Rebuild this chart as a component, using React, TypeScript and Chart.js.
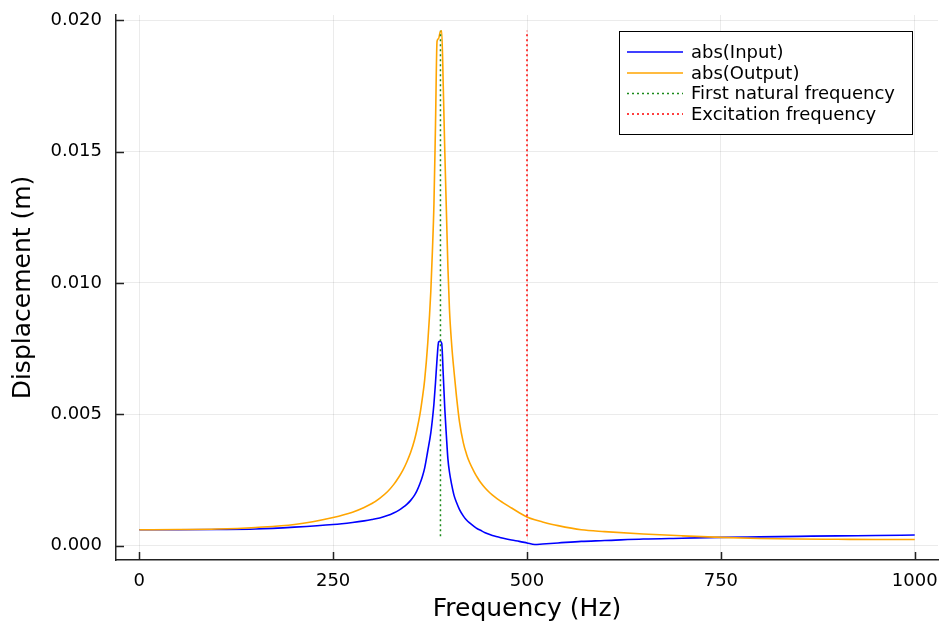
import React, { useEffect, useRef } from "react";
import { Chart, registerables } from "chart.js";

Chart.register(...registerables);

const frequencies = [
  0, 50, 100, 150, 200, 250, 275, 290, 300, 310, 320, 328, 335, 340, 345, 350, 355, 358, 362, 365,
  368, 372, 376, 378, 380, 382, 384, 386, 388, 390, 392, 394, 396, 398, 400, 403, 406, 409, 413,
  418, 422, 426, 432, 436, 440, 446, 452, 458, 465, 480, 490, 500, 510, 520, 540, 570, 600, 650,
  700, 750, 800, 850, 900, 950, 1000,
];

const inputAbs = [
  0.0006, 0.0006, 0.00061, 0.00063, 0.0007, 0.0008, 0.00088, 0.00094, 0.00099, 0.00105, 0.00114,
  0.00124, 0.00135, 0.00145, 0.00157, 0.00172, 0.00192, 0.00208, 0.00236, 0.00262, 0.00295, 0.0036,
  0.0043, 0.0048, 0.0054, 0.0062, 0.0071, 0.00775, 0.00778, 0.0077, 0.0065, 0.0052, 0.0042, 0.0033,
  0.0028, 0.0023, 0.0019, 0.00165, 0.00137, 0.00112, 0.00097, 0.00086, 0.00072, 0.00064, 0.00058,
  0.00049, 0.00042, 0.00036, 0.00031, 0.00021, 0.00016, 0.0001, 0.00004, 0.00006, 0.0001, 0.00016,
  0.00019, 0.00025, 0.00028, 0.00031, 0.00033, 0.00035, 0.00037, 0.00038, 0.0004,
];

const outputAbs = [
  0.0006, 0.00061, 0.00063, 0.00069, 0.0008, 0.00107, 0.00127, 0.00145, 0.0016, 0.0018, 0.00205,
  0.00232, 0.00262, 0.00287, 0.00318, 0.00355, 0.00403, 0.0044, 0.005, 0.0056, 0.0063, 0.0077,
  0.0097, 0.0112, 0.013, 0.016, 0.0192, 0.0193, 0.01955, 0.0196, 0.0175, 0.015, 0.0128, 0.0106,
  0.009, 0.0076, 0.0066, 0.0057, 0.0047, 0.0039, 0.00348, 0.00316, 0.0028, 0.00259, 0.00241, 0.00219,
  0.00201, 0.00186, 0.00171, 0.00143, 0.00125, 0.00109, 0.00098, 0.0009, 0.00076, 0.0006, 0.00053,
  0.00044, 0.00037, 0.00031, 0.00027, 0.00025, 0.00024, 0.00023, 0.00023,
];

const naturalFrequency = 388.4;
const excitationFrequency = 500;
const markerSpan = [0.00035, 0.0196];

const xTicks = [0, 250, 500, 750, 1000];
const yTicks = [0, 0.005, 0.01, 0.015, 0.02];

const FONT = "'DejaVu Sans', sans-serif";
const AXIS_COLOR = "#222";
const GRID_COLOR = "rgba(0,0,0,0.08)";

const innerTicks = {
  id: "innerTicks",
  afterDraw(chart: any) {
    const { ctx, chartArea, scales } = chart;
    ctx.save();
    ctx.strokeStyle = AXIS_COLOR;
    ctx.lineWidth = 1.5;
    ctx.beginPath();
    xTicks.forEach((v) => {
      const px = Math.round(scales.x.getPixelForValue(v)) + 0.5;
      ctx.moveTo(px, chartArea.bottom);
      ctx.lineTo(px, chartArea.bottom - 8);
    });
    yTicks.forEach((v) => {
      const py = Math.round(scales.y.getPixelForValue(v)) + 0.5;
      ctx.moveTo(chartArea.left, py);
      ctx.lineTo(chartArea.left + 8, py);
    });
    ctx.stroke();
    ctx.restore();
  },
};

const boxLegend = {
  id: "boxLegend",
  afterDraw(chart: any) {
    const { ctx } = chart;
    const left = 619;
    const top = 31;
    const w = 293;
    const h = 103;
    ctx.save();
    ctx.fillStyle = "#fff";
    ctx.fillRect(left, top, w, h);
    ctx.strokeStyle = "#000";
    ctx.lineWidth = 1;
    ctx.strokeRect(left + 0.5, top + 0.5, w, h);
    const rowYs = [52, 73, 93.5, 114];
    chart.data.datasets.forEach((ds: any, i: number) => {
      const y = rowYs[i];
      ctx.beginPath();
      ctx.strokeStyle = ds.borderColor;
      ctx.lineWidth = ds.borderWidth;
      ctx.setLineDash(ds.borderDash || []);
      ctx.moveTo(627, y);
      ctx.lineTo(683, y);
      ctx.stroke();
      ctx.setLineDash([]);
      ctx.fillStyle = "#000";
      ctx.font = `18px ${FONT}`;
      ctx.textBaseline = "middle";
      ctx.textAlign = "left";
      ctx.fillText(ds.label, 691, y + 1);
    });
    ctx.restore();
  },
};

export default function App() {
  const ref = useRef<HTMLCanvasElement>(null);
  useEffect(() => {
    document.body.style.margin = "0";
    const pts = (ys: number[]) => frequencies.map((f, i) => ({ x: f, y: ys[i] }));
    const vline = (f: number) => markerSpan.map((y) => ({ x: f, y }));
    const common = { pointRadius: 0, fill: false };
    const curve = { ...common, cubicInterpolationMode: "monotone" as const };
    const chart = new Chart(ref.current as HTMLCanvasElement, {
      type: "line",
      data: {
        datasets: [
          { ...curve, label: "abs(Input)", data: pts(inputAbs), borderColor: "#0000ff", borderWidth: 1.6, order: 4 },
          { ...curve, label: "abs(Output)", data: pts(outputAbs), borderColor: "#ffa500", borderWidth: 1.6, order: 3 },
          { ...common, tension: 0, label: "First natural frequency", data: vline(naturalFrequency), borderColor: "#1a8a1a", borderWidth: 1.5, borderDash: [2, 3], order: 2 },
          { ...common, tension: 0, label: "Excitation frequency", data: vline(excitationFrequency), borderColor: "#ff0000", borderWidth: 1.5, borderDash: [2, 3], order: 1 },
        ],
      },
      options: {
        animation: false,
        responsive: false,
        layout: { padding: { top: 15, right: 3, left: 0, bottom: 0 } },
        plugins: { legend: { display: false }, tooltip: { enabled: false } },
        scales: {
          x: {
            type: "linear",
            min: -30,
            max: 1030,
            afterBuildTicks: (s: any) => {
              s.ticks = xTicks.map((v) => ({ value: v }));
            },
            afterFit: (s: any) => {
              s.height = 68;
              s.paddingLeft = 0;
              s.paddingRight = 0;
            },
            grid: { color: GRID_COLOR, lineWidth: 1, drawTicks: false },
            border: { color: AXIS_COLOR, width: 1.5 },
            ticks: { font: { family: FONT, size: 18 }, color: "#000", padding: 11, maxRotation: 0, callback: (v: any) => String(v) },
            title: { display: true, text: "Frequency (Hz)", font: { family: FONT, size: 25 }, color: "#000", padding: { top: 0, bottom: 4 } },
          },
          y: {
            type: "linear",
            min: -0.00055,
            max: 0.0202,
            afterBuildTicks: (s: any) => {
              s.ticks = yTicks.map((v) => ({ value: v }));
            },
            afterFit: (s: any) => {
              s.width = 116;
              s.paddingTop = 0;
              s.paddingBottom = 0;
            },
            grid: { color: GRID_COLOR, lineWidth: 1, drawTicks: false },
            border: { color: AXIS_COLOR, width: 1.5 },
            ticks: { font: { family: FONT, size: 18 }, color: "#000", padding: 14, callback: (v: any) => Number(v).toFixed(3) },
            title: { display: true, text: "Displacement (m)", font: { family: FONT, size: 25 }, color: "#000", padding: { top: 8, bottom: 0 } },
          },
        },
      },
      plugins: [innerTicks, boxLegend],
    });
    return () => chart.destroy();
  }, []);
  return <canvas ref={ref} width={941} height={628} style={{ display: "block" }} />;
}
